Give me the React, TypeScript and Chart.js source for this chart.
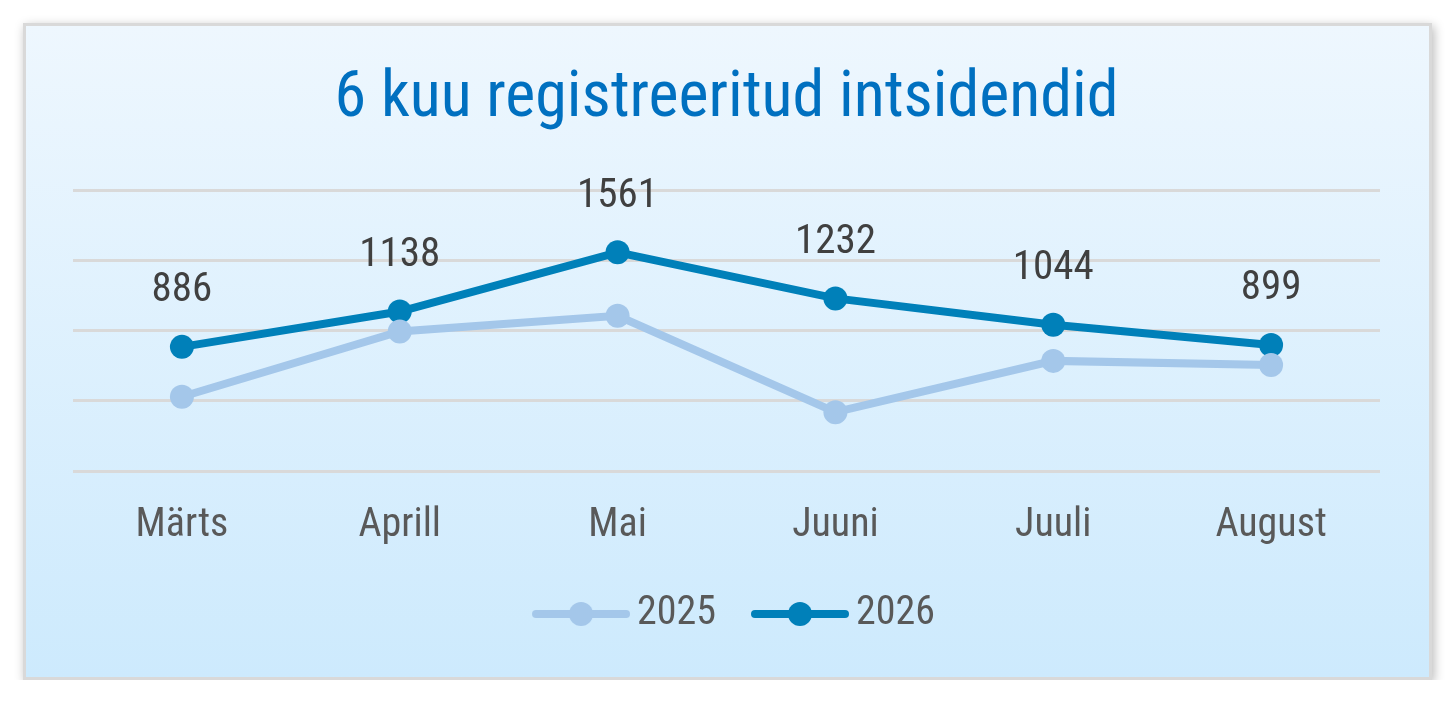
import { useEffect, useRef } from "react"
import { Chart, registerables } from "chart.js"

Chart.register(...registerables)

const months = ["Märts", "Aprill", "Mai", "Juuni", "Juuli", "August"]
const series2025 = [530, 996, 1108, 420, 786, 757]
const series2026 = [886, 1138, 1561, 1232, 1044, 899]
const yTicks = [0, 500, 1000, 1500, 2000]

const FONT = '"Roboto Condensed", "Liberation Sans Narrow", Roboto, sans-serif'
const COLOR_2025 = "#A4C7EA"
const COLOR_2026 = "#0080B9"

// legend marker: short line with a dot in the middle (left part is empty space)
const MARK_LEFT = 27
function legendMarker(color: string) {
  const c = document.createElement("canvas")
  c.width = MARK_LEFT + 98
  c.height = 26
  const g = c.getContext("2d")!
  g.strokeStyle = color
  g.lineWidth = 8
  g.lineCap = "round"
  g.beginPath()
  g.moveTo(MARK_LEFT + 4, 13)
  g.lineTo(MARK_LEFT + 94, 13)
  g.stroke()
  g.fillStyle = color
  g.beginPath()
  g.arc(MARK_LEFT + 49, 13, 12, 0, Math.PI * 2)
  g.fill()
  return c
}

// value labels above the 2026 points
const valueLabels = {
  id: "valueLabels",
  afterDatasetsDraw(chart: Chart) {
    const ctx = chart.ctx
    const meta = chart.getDatasetMeta(1)
    ctx.save()
    ctx.font = `41px ${FONT}`
    ctx.fillStyle = "#404040"
    ctx.textAlign = "center"
    ctx.textBaseline = "middle"
    meta.data.forEach((pt, i) => {
      ctx.fillText(String(series2026[i]), pt.x, pt.y - 56)
    })
    ctx.restore()
  },
}

export default function App() {
  const chartRef = useRef<HTMLCanvasElement>(null)
  const chartInstance = useRef<Chart | null>(null)

  useEffect(() => {
    if (!chartRef.current) return
    if (chartInstance.current) chartInstance.current.destroy()
    const ctx = chartRef.current.getContext("2d")
    if (!ctx) return

    const markers = [legendMarker(COLOR_2025), legendMarker(COLOR_2026)]

    chartInstance.current = new Chart(ctx, {
      type: "line",
      data: {
        labels: months,
        datasets: [
          {
            label: "2025",
            data: series2025,
            borderColor: COLOR_2025,
            backgroundColor: COLOR_2025,
            borderWidth: 8,
            pointRadius: 12,
            pointBorderWidth: 0,
            pointHoverRadius: 12,
          },
          {
            label: "2026",
            data: series2026,
            borderColor: COLOR_2026,
            backgroundColor: COLOR_2026,
            borderWidth: 8,
            pointRadius: 12,
            pointBorderWidth: 0,
            pointHoverRadius: 12,
          },
        ],
      },
      options: {
        animation: false,
        responsive: true,
        maintainAspectRatio: false,
        layout: { padding: { top: 24, left: 47, right: 49, bottom: 33 } },
        scales: {
          x: {
            offset: true,
            grid: { display: false },
            border: { display: false },
            ticks: { color: "#595959", font: { family: FONT, size: 40 }, padding: 23 },
          },
          y: {
            min: yTicks[0],
            max: yTicks[yTicks.length - 1],
            afterBuildTicks: (axis) => {
              axis.ticks = yTicks.map((v) => ({ value: v }))
            },
            grid: { color: "#D9D9D9", lineWidth: 3, drawTicks: false },
            border: { display: false },
            ticks: { display: false },
          },
        },
        plugins: {
          title: {
            display: true,
            text: "6 kuu registreeritud intsidendid",
            color: "#0070C0",
            font: { family: FONT, size: 64, weight: "normal" },
            padding: { top: 12, bottom: 52 },
          },
          legend: {
            position: "bottom",
            labels: {
              usePointStyle: true,
              pointStyleWidth: MARK_LEFT + 72,
              color: "#595959",
              font: { family: FONT, size: 40 },
              padding: 21,
              generateLabels: (chart) =>
                chart.data.datasets.map((ds, i) => ({
                  text: ds.label as string,
                  pointStyle: markers[i],
                  fillStyle: "transparent",
                  strokeStyle: "transparent",
                  lineWidth: 0,
                  datasetIndex: i,
                  hidden: false,
                  fontColor: "#595959",
                })),
            },
          },
          tooltip: { enabled: false },
        },
      },
      plugins: [valueLabels],
    })

    return () => {
      if (chartInstance.current) chartInstance.current.destroy()
    }
  }, [])

  return (
    <div style={{ padding: "15px 0 0 15px" }}>
      <div
        style={{
          width: 1409,
          height: 657,
          boxSizing: "border-box",
          border: "3px solid #D9D9D9",
          background: "linear-gradient(to bottom, #EEF7FE 0%, #CDEAFD 100%)",
          boxShadow: "2px 3px 10px rgba(0,0,0,0.28)",
        }}
      >
        <canvas ref={chartRef} />
      </div>
    </div>
  )
}
